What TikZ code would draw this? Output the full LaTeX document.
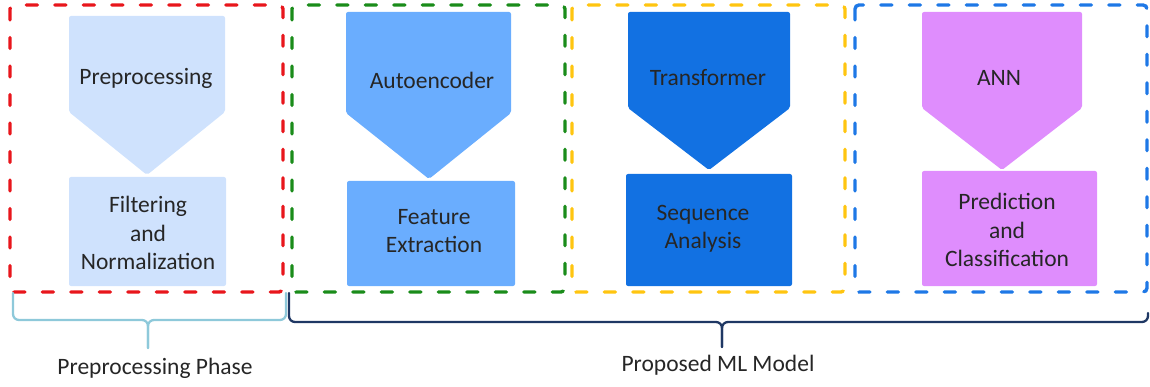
\documentclass[tikz,border=0pt]{standalone}
\usepackage{fontspec}
\setmainfont{Carlito}
\definecolor{txt}{HTML}{262626}
\definecolor{cPre}{HTML}{CFE2FD}
\definecolor{cAuto}{HTML}{6AADFE}
\definecolor{cTrans}{HTML}{1271E2}
\definecolor{cAnn}{HTML}{DF8DFD}
\definecolor{dRed}{HTML}{E8161C}
\definecolor{dGreen}{HTML}{1A8C1A}
\definecolor{dYellow}{HTML}{FFC510}
\definecolor{dBlue}{HTML}{1E78E6}
\definecolor{braceLight}{HTML}{8EC9DA}
\definecolor{braceDark}{HTML}{1F3864}
\begin{document}
\begin{tikzpicture}[x=1pt,y=-1pt,
  phasebox/.style={line width=3.4pt,line cap=round,dash pattern=on 11pt off 17.5pt,rounded corners=4pt},
  shapefill/.style={fill=#1,draw=none,rounded corners=2pt},
  label/.style={text=txt,font=\fontsize{23.5}{28.5}\selectfont,align=center,inner sep=0pt},
  bracestyle/.style={line width=2.3pt,rounded corners=6pt,line cap=round}]
\useasboundingbox (0,0) rectangle (1150,387);

% dashed phase frames
\draw[phasebox,dRed]    (10,5)  rectangle (283,292);
\draw[phasebox,dGreen]  (292,5) rectangle (565,292);
\draw[phasebox,dYellow] (572,5) rectangle (845,292);
\draw[phasebox,dBlue]   (855,5) rectangle (1147,292);

% preprocessing column
\fill[shapefill=cPre] (69,16) -- (225,16) -- (225,112) -- (147,175) -- (69,112) -- cycle;
\fill[shapefill=cPre] (69,177) rectangle (226,286);
\node[label] (pre) at (146,78) {Preprocessing};
\node[label] (filt) at (148,233) {Filtering\\and\\Normalization};

% autoencoder column
\fill[shapefill=cAuto] (346,12) -- (511,12) -- (511,113) -- (429,179) -- (346,113) -- cycle;
\fill[shapefill=cAuto] (347,181) rectangle (515,286);
\node[label] (auto) at (432,80) {Autoencoder};
\node[label] (feat) at (434,231) {Feature\\Extraction};

% transformer column
\fill[shapefill=cTrans] (628,12) -- (790,12) -- (790,108) -- (709,170) -- (628,108) -- cycle;
\fill[shapefill=cTrans] (626,174) rectangle (792,286);
\node[label] (trans) at (708,78) {Transformer};
\node[label] (seq) at (703,229) {Sequence\\Analysis};

% ANN column
\fill[shapefill=cAnn] (922,12) -- (1082,12) -- (1082,108) -- (1002,170) -- (922,108) -- cycle;
\fill[shapefill=cAnn] (922,171) rectangle (1097,286);
\node[label] (ann) at (999,78) {ANN};
\node[label] (pred) at (1007,230) {Prediction\\and\\Classification};

% grouping braces
\coordinate (bl1) at (13,293);
\coordinate (bl2) at (286,293);
\coordinate (blm) at (148,320);
\coordinate (blt) at (148,348);
\draw[bracestyle,braceLight] (bl1) |- (blm) -- (blt);
\draw[bracestyle,braceLight] (bl2) |- (blm) -- (blt);

\coordinate (bd1) at (289,293);
\coordinate (bd2) at (1148,313);
\coordinate (bdm) at (722,322);
\coordinate (bdt) at (722,347);
\draw[bracestyle,braceDark] (bd1) |- (bdm) -- (bdt);
\draw[bracestyle,braceDark] (bd2) |- (bdm) -- (bdt);

\node[label] (phase) at (155,368) {Preprocessing Phase};
\node[label] (model) at (718,365) {Proposed ML Model};
\end{tikzpicture}
\end{document}
